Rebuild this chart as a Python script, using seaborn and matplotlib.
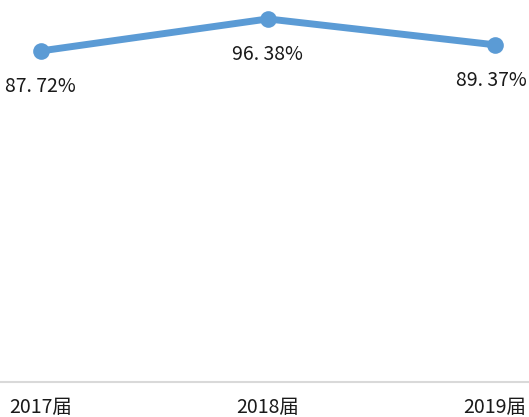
import matplotlib
matplotlib.use("Agg")
import matplotlib.pyplot as plt
import seaborn as sns
import pandas as pd

categories = ["2017届", "2018届", "2019届"]
values = [87.72, 96.38, 89.37]
labels = ["87. 72%", "96. 38%", "89. 37%"]

sns.set_style("white")
plt.rcParams['font.family'] = ['Noto Sans CJK SC', 'DejaVu Sans']

df = pd.DataFrame({"x": range(len(categories)), "v": values})

fig = plt.figure(figsize=(5.29, 4.17), dpi=100)
ax = fig.add_axes([0, 35 / 417, 1, 382 / 417])
sns.lineplot(data=df, x="x", y="v", ax=ax, color="#5B9BD5", linewidth=5,
             marker="o", markersize=12, markeredgewidth=0)

for i, (v, t) in enumerate(zip(values, labels)):
    ax.annotate(t, (i, v), xytext=(0 if i < 2 else -4, -36), textcoords="offset pixels",
                ha="center", va="center", fontsize=14, color="#1a1a1a")

ax.set_xlim(-0.18, 2.15)
ax.set_ylim(-1.86, 101.5)
ax.set_yticks([])
ax.set_xticks(range(len(categories)))
ax.set_xticklabels(categories, fontsize=14, color="#1a1a1a")
ax.tick_params(axis="x", length=0, pad=11)
ax.set_xlabel("")
ax.set_ylabel("")
for s in ["top", "left", "right"]:
    ax.spines[s].set_visible(False)
ax.spines["bottom"].set_color("#D9D9D9")
ax.spines["bottom"].set_linewidth(1.5)

fig.savefig("out.png", dpi=100)
